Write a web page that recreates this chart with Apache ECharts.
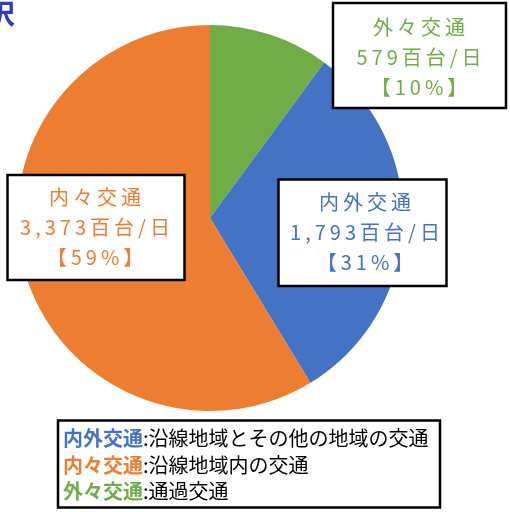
<!DOCTYPE html>
<html><head><meta charset="utf-8">
<script src="https://cdn.jsdelivr.net/npm/echarts@6/dist/echarts.min.js"></script>
<style>html,body{margin:0;padding:0;background:#fff}#c{width:510px;height:512px}</style>
</head><body><div id="c"></div>
<script>
// ---- data ----
const categories = ['外々交通', '内外交通', '内々交通'];
const values = [579, 1793, 3373];
const unit = '百台/日';
const sliceColors = ['#70AD47', '#4472C4', '#ED7D31'];
const legendNames = ['内外交通', '内々交通', '外々交通'];
const legendDescs = ['沿線地域とその他の地域の交通', '沿線地域内の交通', '通過交通'];
const titleText = '沢';

// ---- layout (positions only) ----
const boxes = [
  { x: 333, y: 3, w: 173, h: 105, cx: 419, cy: 57 },
  { x: 278.5, y: 179.5, w: 168, h: 106.5, cx: 365, cy: 232.5 },
  { x: 7.5, y: 175, w: 177, h: 105, cx: 95, cy: 227.5 }
];
const FONT = '"Noto Sans CJK JP", "Noto Sans", sans-serif';
const spaced = s => s.split('').join('\u2009');

const total = values.reduce((a, b) => a + b, 0);
const graphics = [];
// clipped title
graphics.push({ type: 'text', x: -12, y: 14, style: { text: titleText, fontSize: 27, fontWeight: 'bold', fontFamily: FONT, fill: '#2E3DC0', verticalAlign: 'middle' } });

categories.forEach((c, i) => {
  const b = boxes[i];
  const pct = Math.round(values[i] / total * 100);
  graphics.push({ type: 'rect', shape: { x: b.x, y: b.y, width: b.w, height: b.h }, style: { fill: '#fff', stroke: '#000', lineWidth: 2.5 }, z: 10 });
  const txt = [spaced(c), spaced(values[i].toLocaleString('en-US') + unit), spaced('【' + pct + '%】')].join('\n');
  graphics.push({ type: 'text', x: b.cx, y: b.cy, style: { text: txt, align: 'center', verticalAlign: 'middle', fontSize: 20, lineHeight: 30, fontFamily: FONT, fill: sliceColors[i] }, z: 11 });
});

// legend box
graphics.push({ type: 'rect', shape: { x: 58, y: 420.5, width: 382, height: 87 }, style: { fill: '#fff', stroke: '#000', lineWidth: 2.5 }, z: 10 });
const legendY = [438, 465, 491];
legendNames.forEach((n, i) => {
  const col = sliceColors[categories.indexOf(n)];
  graphics.push({ type: 'text', x: 63, y: legendY[i], style: {
    text: '{n|' + n + '}{d|:' + legendDescs[i] + '}', verticalAlign: 'middle',
    rich: { n: { fontSize: 20, fontWeight: 'bold', fill: col, fontFamily: FONT }, d: { fontSize: 20, fill: '#000', fontFamily: FONT } }
  }, z: 11 });
});

const chart = echarts.init(document.getElementById('c'), null, { renderer: 'canvas' });
chart.setOption({
  animation: false,
  backgroundColor: '#fff',
  series: [{
    type: 'pie',
    center: [210, 218],
    radius: 193,
    startAngle: 90,
    clockwise: true,
    label: { show: false },
    labelLine: { show: false },
    emphasis: { disabled: true },
    itemStyle: { borderWidth: 0 },
    data: categories.map((c, i) => ({ name: c, value: values[i], itemStyle: { color: sliceColors[i] } }))
  }],
  graphic: graphics
});
</script></body></html>
